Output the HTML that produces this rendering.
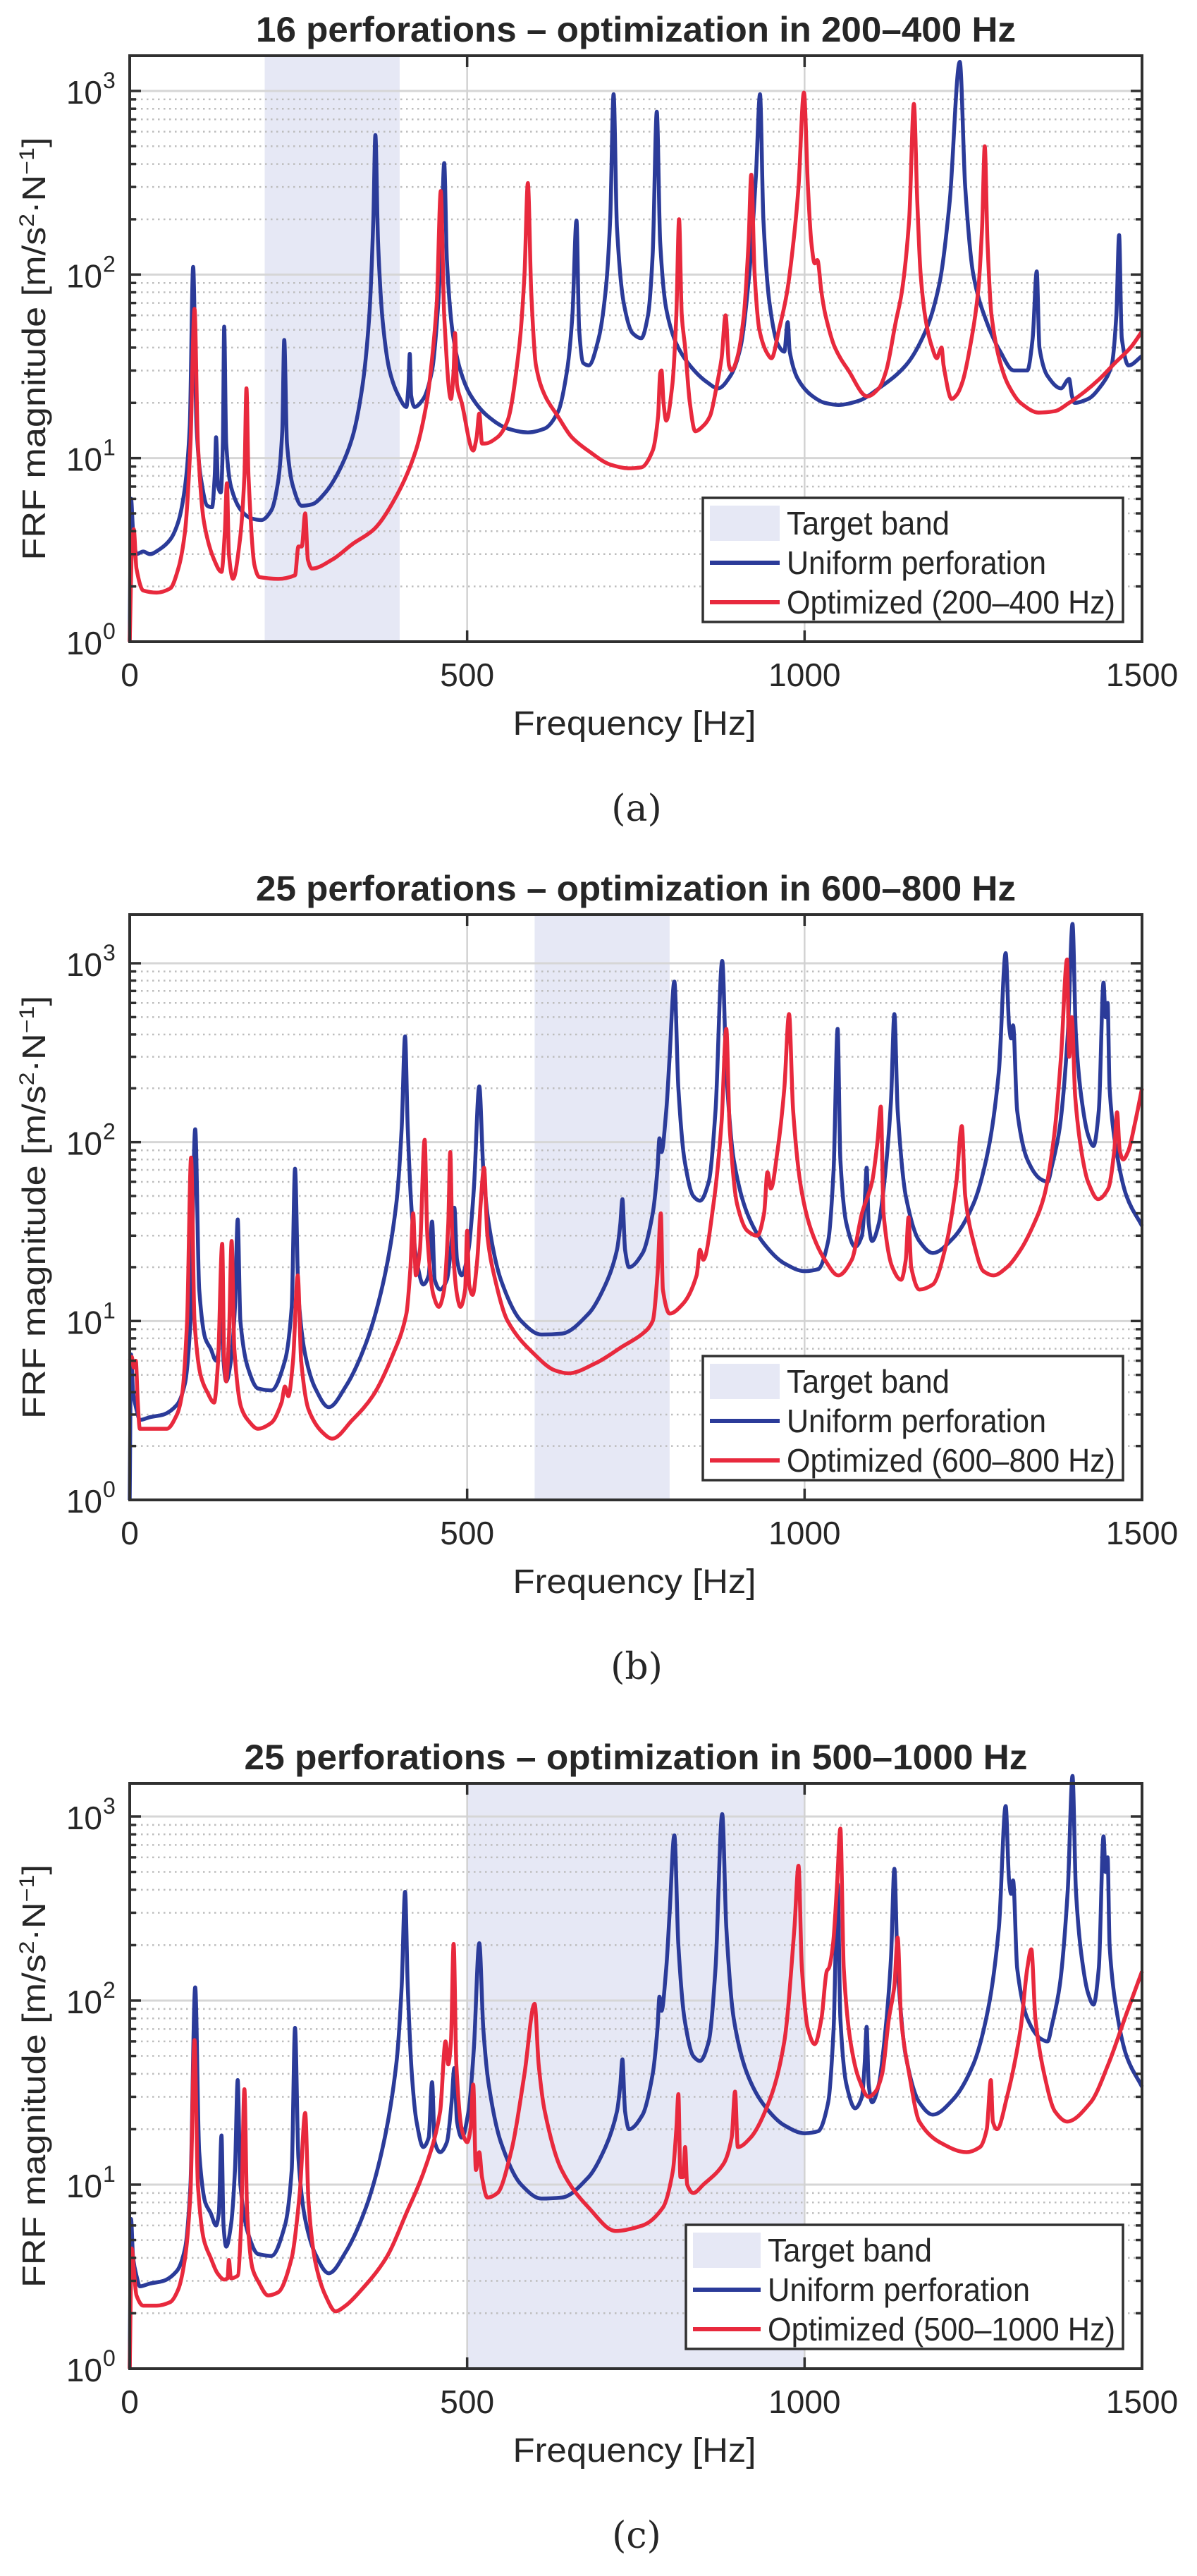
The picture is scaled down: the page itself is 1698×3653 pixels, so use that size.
<!DOCTYPE html>
<html>
<head>
<meta charset="utf-8">
<style>
  html,body{margin:0;padding:0;background:#fff;}
  svg{display:block;}
  text{font-family:"Liberation Sans",sans-serif;fill:#262626;}
</style>
</head>
<body>
<svg id="fig" xmlns="http://www.w3.org/2000/svg" width="1698" height="3653" viewBox="0 0 1698 3653"></svg>
<script>
// ---------- DATA (frequency in Hz, FRF magnitude in m/s^2/N) ----------
const xTickLabels = ["0","500","1000","1500"];
const xTickValues = [0,500,1000,1500];
const yDecadeExps = [0,1,2,3];

const bandA = [200,400];
const bandB = [600,800];
const bandC = [500,1000];

const titleA = "16 perforations \u2013 optimization in 200\u2013400 Hz";
const titleB = "25 perforations \u2013 optimization in 600\u2013800 Hz";
const titleC = "25 perforations \u2013 optimization in 500\u20131000 Hz";
const legendA = ["Target band","Uniform perforation","Optimized (200\u2013400 Hz)"];
const legendB = ["Target band","Uniform perforation","Optimized (600\u2013800 Hz)"];
const legendC = ["Target band","Uniform perforation","Optimized (500\u20131000 Hz)"];

const freqBlueA = [0,2,5,10,20,30,45,60,72,82,89,94,99,105,115,122,126,128,131,135,138,140,143,150,165,180,195,210,220,226,229,233,242,255,270,290,310,330,345,355,361,364,368,375,385,398,410,413,415,417,422,435,448,456,462,466,470,478,490,505,530,560,590,615,635,648,656,662,666,672,680,695,705,712,717,722,732,745,758,768,775,781,786,795,810,830,855,872,890,905,918,928,934,939,948,960,970,975,978,990,1010,1030,1050,1080,1110,1150,1180,1200,1215,1230,1238,1250,1270,1290,1310,1330,1338,1344,1348,1360,1380,1392,1396,1400,1420,1440,1455,1462,1466,1470,1480,1500];
const magBlueA = [1,6,4,3.0,3.1,3.0,3.2,3.6,4.5,7,15,110,15,8,5.5,5.4,8,13,7,6.5,12,52,12,7,5.2,4.7,4.6,5.2,7.5,14,44,12,7,5.5,5.6,6.5,8.5,13,25,60,200,575,150,55,30,22,19,25,37,22,19,21,30,60,160,405,120,50,30,22,17,14.5,13.8,14.5,18,30,60,197,50,33,32,45,80,200,960,180,70,48,45,60,130,770,150,65,42,32,26,24,28,40,100,350,960,200,70,42,38,55,38,27,22,20,19.5,20.5,24,32,50,90,250,1440,300,100,55,38,30,30,45,104,40,28,24,27,22,20,21,25,32,60,164,45,32,36];

const freqRedA = [0,3,6,10,20,40,60,72,82,90,96,101,110,125,136,141,144,147,153,163,170,173,176,185,192,220,245,250,255,260,264,270,300,330,362,396,424,440,447,455,461,466,476,480,482,485,492,509,514,518,522,526,545,560,577,585,590,595,602,615,634,655,679,713,740,758,775,783,786,788,791,795,804,810,814,818,823,830,838,850,860,870,877,883,888,892,900,910,917,921,926,933,945,951,962,974,985,991,999,1005,1010,1015,1019,1025,1031,1045,1065,1093,1110,1121,1135,1144,1155,1162,1167,1172,1180,1189,1196,1200,1203,1206,1218,1225,1234,1245,1257,1263,1267,1271,1277,1290,1302,1320,1347,1370,1392,1415,1437,1460,1483,1500];
const magRedA = [1,3,4.1,2.5,1.9,1.85,1.95,2.5,4,12,65,12,4.5,2.8,2.4,4,7.3,3,2.2,3.5,8,24,8,2.6,2.25,2.2,2.3,3.3,3.3,5.0,2.8,2.5,2.8,3.4,4.1,6.3,11,20,32,70,285,60,21,30,48,25,20,11,13,17.5,12,12,13,16,40,100,315,80,32,22,17,13,11,9.2,8.8,8.9,11,17,29,30,20,16,25,60,200,60,40,20,14,15,17,25,35,60,32,30,35,60,150,350,100,50,37,35,50,80,170,300,980,300,150,115,120,80,60,40,30,21.7,24,30,55,80,200,850,250,100,55,40,35,38,40,32,21,22,26,40,80,180,500,150,60,33,25,20,17.7,18,20,23,27,33,40,49];

const freqBlueBC = [0,2,5,10,15,30,50,70,82,90,97,103,112,120,128,132,136,139,143,150,156,160,164,175,190,210,230,240,245,250,260,275,295,320,350,375,395,403,408,412,418,425,435,443,448,452,460,470,477,481,485,492,502,510,518,524,532,550,580,610,640,680,705,722,727,730,734,740,760,775,782,785,788,795,800,807,813,822,835,845,858,868,878,884,895,915,940,970,1000,1020,1035,1043,1049,1053,1062,1075,1085,1089,1092,1095,1100,1110,1120,1128,1133,1138,1150,1170,1190,1220,1250,1272,1288,1298,1303,1306,1309,1315,1330,1350,1360,1367,1378,1390,1397,1402,1410,1420,1428,1436,1443,1446,1449,1452,1460,1477,1500];
const magBlueBC = [1,6.5,4,3.2,2.8,2.9,3.0,3.4,4.5,10,118,15,8,7,6,7,18.5,6,4.6,6,12,37,10,5.5,4.2,4.1,6,12,71,14,6.5,4.2,3.3,4.3,7.5,16,45,120,390,120,40,22,16,18,36,17,15,17,28,43,22,18,25,55,205,70,35,17,10,8.4,8.5,11,16,25,35,48,25,20,24,40,70,105,88,150,300,790,200,80,50,47,60,150,1030,250,80,40,27,21,19,19.5,28,70,430,80,35,26,30,45,72,35,28,35,70,170,520,150,50,28,24,29,45,90,250,1140,450,380,450,150,80,62,60,75,120,400,1660,400,180,110,95,150,780,500,600,200,100,50,34];

const freqRedB = [0,3,6,9,12,15,30,55,70,78,85,91,96,105,115,125,131,137,140,143,147,151,155,165,175,190,210,225,230,235,242,249,254,265,285,300,330,360,390,410,416,420,424,430,437,441,450,458,466,472,475,478,485,490,497,500,503,508,515,520,525,530,540,560,600,630,650,690,730,760,775,782,787,790,800,820,840,845,850,865,877,884,889,900,915,930,940,945,950,960,970,977,983,995,1010,1030,1050,1070,1085,1100,1108,1113,1117,1130,1143,1150,1154,1158,1170,1190,1210,1225,1233,1238,1250,1265,1280,1300,1320,1340,1355,1370,1380,1389,1392,1396,1401,1410,1420,1435,1450,1459,1463,1467,1472,1480,1490,1500];
const magRedB = [6,6.3,5.5,6,3.5,2.5,2.5,2.5,3,4,10,82,10,5,4,3.5,6,27,6,4.6,8,28,7,3.3,2.8,2.5,2.7,3.5,4.3,3.8,6,18,6,3.2,2.4,2.2,2.8,3.8,6.5,11,20,40,18,25,103,30,14,12,15,35,88,30,14,12,15,32,16,14,22,45,72,30,18,10,6.5,5.3,5.1,5.8,7.2,8.5,10,18,40,15,11,12.5,18,25,22,45,130,430,120,45,32,30,40,68,55,90,200,520,150,55,32,22,18,22,40,60,100,158,40,20,17,22,38,20,15,16,27,60,123,50,28,19,18,20,25,35,50,110,300,1050,300,500,180,90,60,48,55,90,147,90,80,90,130,200];

const freqRedC = [0,3,6,10,20,40,60,72,82,90,96,101,110,120,130,140,145,147,150,160,165,170,174,182,190,205,220,240,252,260,265,275,290,305,320,340,380,410,440,460,468,472,476,480,484,492,500,505,509,513,518,522,530,545,565,585,600,606,615,640,680,720,760,790,805,810,813,816,820,823,826,835,850,880,892,897,901,920,950,970,985,991,996,1005,1015,1025,1033,1036,1042,1048,1053,1058,1068,1080,1095,1105,1115,1125,1133,1138,1143,1155,1170,1200,1240,1260,1270,1276,1279,1285,1300,1320,1330,1336,1342,1355,1371,1389,1424,1450,1477,1500];
const magRedC = [1,4.5,3.5,2.5,2.2,2.2,2.3,2.7,4,9,61,10,5,4,3.3,3.05,3.1,3.9,3.1,3.2,6,33,7,3.5,3,2.5,2.6,4,9,24.5,8,3.8,2.5,2.05,2.2,2.6,4,7,13,25,60,45,60,203,45,20,17,20,35,12,15,11,8.5,9,15,40,96,45,25,12,7.5,5.6,6,7.5,12,20,31,11,11,16,10,9,10,13,18,32,16,18,30,60,250,540,150,70,58,80,145,150,200,420,860,150,60,38,30,32,40,80,120,220,80,40,22,17,15,16,20,37,22,20,30,70,150,190,80,40,25,22,28,45,85,144];

// ---------- RENDERING ----------
const NS = "http://www.w3.org/2000/svg";
const svg = document.getElementById("fig");
const BLUE = "#2b3b99", RED = "#e8293d", BAND = "#e6e8f5";

function mk(tag, attrs, parent) {
  const e = document.createElementNS(NS, tag);
  for (const k in attrs) e.setAttribute(k, attrs[k]);
  (parent || svg).appendChild(e);
  return e;
}

// monotone cubic (Fritsch-Carlson) path through screen points
function smoothPath(X, Y) {
  const n = X.length;
  const d = [], m = new Array(n);
  for (let i = 0; i < n - 1; i++) d.push((Y[i + 1] - Y[i]) / Math.max(X[i + 1] - X[i], 1e-6));
  m[0] = d[0]; m[n - 1] = d[n - 2];
  for (let i = 1; i < n - 1; i++) {
    if (d[i - 1] * d[i] <= 0) m[i] = 0;
    else m[i] = 2 / (1 / d[i - 1] + 1 / d[i]);
  }
  let p = "M" + X[0].toFixed(1) + "," + Y[0].toFixed(1);
  for (let i = 0; i < n - 1; i++) {
    const h = X[i + 1] - X[i];
    p += "C" + (X[i] + h / 3).toFixed(1) + "," + (Y[i] + m[i] * h / 3).toFixed(1) + " " +
         (X[i + 1] - h / 3).toFixed(1) + "," + (Y[i + 1] - m[i + 1] * h / 3).toFixed(1) + " " +
         X[i + 1].toFixed(1) + "," + Y[i + 1].toFixed(1);
  }
  return p;
}

function panel(cfg) {
  const g = mk("g", {});
  
  
  const L = 184, R = 1620, T = cfg.top, B = cfg.bottom;
  const dec = (B - T) / cfg.ymaxLog;
  const xs = f => L + f / 1500 * (R - L);
  const ys = m => B - Math.log10(Math.max(m, 1)) * dec;

  const band = mk("rect", {x: xs(cfg.band[0]), y: T, width: xs(cfg.band[1]) - xs(cfg.band[0]), height: B - T, fill: BAND}, g);
  
  

  const grid = mk("g", {}, g);
  
  
  for (const e of yDecadeExps) {
    for (let k = 2; k <= 9; k++) {
      const y = ys(k * Math.pow(10, e));
      if (y < T) continue;
      mk("line", {x1: L, x2: R, y1: y, y2: y, stroke: "#bdbdbd", "stroke-width": 2.5, "stroke-dasharray": "2.5 5.5"}, grid);
    }
  }
  for (const e of yDecadeExps) {
    const y = ys(Math.pow(10, e));
    mk("line", {x1: L, x2: R, y1: y, y2: y, stroke: "#d6d6d6", "stroke-width": 3}, grid);
  }
  for (const v of xTickValues) {
    const x = xs(v);
    mk("line", {x1: x, x2: x, y1: T, y2: B, stroke: "#d2d2d2", "stroke-width": 2.5}, grid);
  }

  function curve(fr, mg, color, name) {
    const X = fr.map(xs), Y = mg.map(ys);
    const p = mk("path", {d: smoothPath(X, Y), fill: "none", stroke: color, "stroke-width": 5.5, "stroke-linejoin": "round"}, g);
    
    
  }
  curve(cfg.fb, cfg.mb, BLUE, "uniform-perforation-line");
  curve(cfg.fr, cfg.mr, RED, "optimized-line");

  const box = mk("rect", {x: L, y: T, width: R - L, height: B - T, fill: "none", stroke: "#303030", "stroke-width": 4}, g);
  
  
  for (const e of yDecadeExps) {
    for (let k = 1; k <= 9; k++) {
      const y = ys(k * Math.pow(10, e));
      if (y < T) continue;
      const len = k === 1 ? 16 : 9;
      mk("line", {x1: L, x2: L + len, y1: y, y2: y, stroke: "#303030", "stroke-width": 3.5}, g);
      mk("line", {x1: R, x2: R - len, y1: y, y2: y, stroke: "#303030", "stroke-width": 3.5}, g);
    }
  }
  xTickValues.forEach((v, i) => {
    const x = xs(v);
    mk("line", {x1: x, x2: x, y1: B, y2: B - 16, stroke: "#303030", "stroke-width": 3.5}, g);
    mk("line", {x1: x, x2: x, y1: T, y2: T + 16, stroke: "#303030", "stroke-width": 3.5}, g);
    const t = mk("text", {x: x, y: B + 63, "font-size": 46, "text-anchor": "middle"}, g);
    t.textContent = xTickLabels[i];
    
    
  });
  for (const e of yDecadeExps) {
    const y = ys(Math.pow(10, e));
    const t = mk("text", {x: 145, y: y + 18, "font-size": 46, "text-anchor": "end"}, g);
    t.textContent = "10";
    
    
    const s = mk("text", {x: 146, y: y - 4, "font-size": 32}, g);
    s.textContent = String(e);
  }

  const ti = mk("text", {x: 902, y: T - 20, "font-size": 50, "font-weight": "bold", "text-anchor": "middle", textLength: cfg.titleLen, lengthAdjust: "spacingAndGlyphs", fill: "#111"}, g);
  ti.textContent = cfg.title;
  
  

  const cy = (T + B) / 2;
  const yl = mk("text", {x: 0, y: 0, "font-size": 46, "text-anchor": "middle", transform: "translate(64," + cy + ") rotate(-90)", textLength: 600, lengthAdjust: "spacingAndGlyphs"}, g);
  
  
  yl.appendChild(document.createTextNode("FRF magnitude [m/s"));
  const sup1 = mk("tspan", {dy: -16, "font-size": 30}, yl); sup1.textContent = "2";
  const mid = mk("tspan", {dy: 16}, yl); mid.textContent = "\u00b7N";
  const sup2 = mk("tspan", {dy: -16, "font-size": 30}, yl); sup2.textContent = "\u22121";
  const end = mk("tspan", {dy: 16}, yl); end.textContent = "]";

  const xl = mk("text", {x: 900, y: B + 132, "font-size": 48, "text-anchor": "middle", textLength: 345, lengthAdjust: "spacingAndGlyphs"}, g);
  xl.textContent = "Frequency [Hz]";
  
  

  const sub = mk("text", {x: 903, y: B + 254, "font-size": 52, "text-anchor": "middle", style: "font-family:'DejaVu Serif','Liberation Serif',serif"}, g);
  sub.textContent = cfg.sub;
  
  

  const lg = mk("g", {}, g);
  
  
  const lx = cfg.legX, ly = B - 28 - 176;
  mk("rect", {x: lx, y: ly, width: 1593 - lx, height: 176, fill: "#fff", stroke: "#303030", "stroke-width": 3.5}, lg);
  const rows = [ly + 36, ly + 92, ly + 148];
  const sx0 = lx + 10, sx1 = cfg.textX - 10;
  const sw = mk("rect", {x: sx0, y: rows[0] - 25, width: sx1 - sx0, height: 50, fill: BAND}, lg);
  
  
  mk("line", {x1: sx0, x2: sx1, y1: rows[1], y2: rows[1], stroke: BLUE, "stroke-width": 6}, lg);
  mk("line", {x1: sx0, x2: sx1, y1: rows[2], y2: rows[2], stroke: RED, "stroke-width": 6}, lg);
  cfg.legend.forEach((s, i) => {
    const t = mk("text", {x: cfg.textX, y: rows[i] + 16, "font-size": 46, textLength: cfg.legLens[i], lengthAdjust: "spacingAndGlyphs", fill: "#111"}, lg);
    t.textContent = s;
    
    
  });
}

panel({name: "panel-a", top: 79, bottom: 910, ymaxLog: 3.192, band: bandA, fb: freqBlueA, mb: magBlueA, fr: freqRedA, mr: magRedA,
  title: titleA, titleLen: 1078, sub: "(a)", legend: legendA, legX: 997, textX: 1116, legLens: [231, 368, 466]});
panel({name: "panel-b", top: 1297, bottom: 2127, ymaxLog: 3.272, band: bandB, fb: freqBlueBC, mb: magBlueBC, fr: freqRedB, mr: magRedB,
  title: titleB, titleLen: 1078, sub: "(b)", legend: legendB, legX: 997, textX: 1116, legLens: [231, 368, 466]});
panel({name: "panel-c", top: 2529, bottom: 3359, ymaxLog: 3.18, band: bandC, fb: freqBlueBC, mb: magBlueBC, fr: freqRedC, mr: magRedC,
  title: titleC, titleLen: 1111, sub: "(c)", legend: legendC, legX: 973, textX: 1089, legLens: [233, 372, 493]});
</script>
</body>
</html>
